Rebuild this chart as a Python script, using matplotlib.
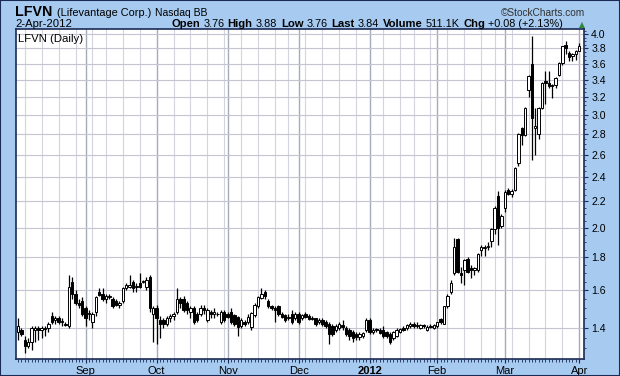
import numpy as np
import pandas as pd
import matplotlib
matplotlib.use('Agg')
import matplotlib.pyplot as plt
from matplotlib.patches import Rectangle

plt.rcParams['font.family'] = ['Liberation Sans', 'DejaVu Sans']

# LFVN daily candles, 4-Aug-2011 .. 2-Apr-2012
opens = [
    # Aug
    1.38, 1.39, 1.34, 1.31, 1.33, 1.39, 1.40, 1.39, 1.40, 1.40,
    1.46, 1.44, 1.45, 1.43, 1.42, 1.41, 1.65, 1.58, 1.53, 1.54,
    # Sep
    1.50, 1.47, 1.43, 1.48, 1.59, 1.58, 1.55, 1.56, 1.55, 1.54,
    1.52, 1.54, 1.61, 1.62, 1.65, 1.62, 1.64, 1.65, 1.62, 1.68, 1.47,
    # Oct
    1.50, 1.44, 1.44, 1.42, 1.45, 1.46, 1.48, 1.55, 1.55, 1.53,
    1.48, 1.50, 1.47, 1.47, 1.50, 1.44, 1.48, 1.47, 1.47, 1.43, 1.48,
    # Nov
    1.47, 1.48, 1.465, 1.455, 1.41, 1.43, 1.43, 1.404, 1.464, 1.51,
    1.555, 1.59, 1.54, 1.51, 1.50, 1.51, 1.47, 1.465, 1.45, 1.47, 1.45,
    # Dec
    1.47, 1.45, 1.47, 1.46, 1.45, 1.447, 1.43, 1.44, 1.43, 1.42,
    1.41, 1.39, 1.40, 1.415, 1.40, 1.39, 1.38, 1.37, 1.355, 1.36, 1.39,
    # Jan
    1.44, 1.38, 1.395, 1.39, 1.39, 1.38, 1.37, 1.35, 1.36, 1.38,
    1.40, 1.40, 1.41, 1.42, 1.415, 1.40, 1.415, 1.39, 1.41, 1.40,
    # Feb
    1.41, 1.445, 1.42, 1.51, 1.59, 1.70, 1.92, 1.70, 1.72, 1.79,
    1.73, 1.72, 1.72, 1.85, 1.86, 1.87, 1.91, 1.99, 2.24, 2.01,
    # Mar
    2.15, 2.29, 2.26, 2.29, 2.52, 2.86, 2.79, 3.28, 3.60, 2.86, 2.80,
    3.07, 3.38, 3.36, 3.34, 3.34, 3.46, 3.61, 3.85, 3.74, 3.70, 3.72,
    # Apr
    3.76,
]
highs = [
    1.45, 1.40, 1.36, 1.35, 1.41, 1.41, 1.41, 1.41, 1.41, 1.43,
    1.48, 1.46, 1.46, 1.45, 1.43, 1.69, 1.68, 1.60, 1.55, 1.56,
    1.51, 1.49, 1.48, 1.57, 1.61, 1.61, 1.58, 1.58, 1.56, 1.55,
    1.54, 1.62, 1.64, 1.69, 1.66, 1.64, 1.70, 1.66, 1.68, 1.69, 1.51,
    1.52, 1.46, 1.45, 1.46, 1.47, 1.48, 1.61, 1.56, 1.57, 1.54,
    1.51, 1.51, 1.48, 1.52, 1.52, 1.50, 1.49, 1.50, 1.48, 1.49, 1.49,
    1.48, 1.50, 1.47, 1.46, 1.45, 1.44, 1.47, 1.48, 1.53, 1.57,
    1.61, 1.60, 1.55, 1.52, 1.51, 1.52, 1.48, 1.47, 1.47, 1.49, 1.48,
    1.48, 1.47, 1.48, 1.47, 1.46, 1.45, 1.45, 1.45, 1.44, 1.43,
    1.42, 1.42, 1.43, 1.44, 1.41, 1.40, 1.39, 1.38, 1.38, 1.38, 1.45,
    1.45, 1.40, 1.40, 1.40, 1.41, 1.385, 1.38, 1.385, 1.40, 1.40,
    1.41, 1.42, 1.43, 1.43, 1.43, 1.42, 1.42, 1.415, 1.42, 1.42,
    1.43, 1.45, 1.51, 1.58, 1.66, 1.93, 1.93, 1.74, 1.79, 1.80,
    1.75, 1.74, 1.83, 1.88, 1.88, 1.90, 2.00, 2.16, 2.28, 2.10,
    2.29, 2.31, 2.30, 2.49, 2.81, 2.87, 3.08, 3.46, 3.98, 3.07, 3.08,
    3.37, 3.50, 3.50, 3.35, 3.43, 3.62, 3.84, 3.90, 3.76, 3.74, 3.78,
    3.88,
]
lows = [
    1.34, 1.36, 1.28, 1.30, 1.29, 1.33, 1.34, 1.35, 1.36, 1.38,
    1.42, 1.42, 1.42, 1.41, 1.41, 1.40, 1.55, 1.52, 1.50, 1.46,
    1.41, 1.44, 1.40, 1.46, 1.57, 1.54, 1.53, 1.55, 1.50, 1.51,
    1.50, 1.53, 1.60, 1.61, 1.59, 1.59, 1.61, 1.64, 1.60, 1.48, 1.33,
    1.32, 1.35, 1.40, 1.41, 1.43, 1.44, 1.47, 1.50, 1.48, 1.47,
    1.45, 1.42, 1.43, 1.46, 1.47, 1.43, 1.45, 1.45, 1.46, 1.42, 1.43,
    1.45, 1.42, 1.41, 1.36, 1.40, 1.41, 1.42, 1.39, 1.455, 1.50,
    1.55, 1.55, 1.50, 1.49, 1.43, 1.46, 1.45, 1.43, 1.44, 1.42, 1.44,
    1.42, 1.44, 1.45, 1.44, 1.44, 1.41, 1.42, 1.41, 1.40, 1.32,
    1.36, 1.38, 1.39, 1.39, 1.36, 1.34, 1.33, 1.34, 1.34, 1.35, 1.38,
    1.37, 1.37, 1.38, 1.37, 1.35, 1.35, 1.32, 1.34, 1.355, 1.375,
    1.385, 1.39, 1.40, 1.40, 1.40, 1.395, 1.40, 1.385, 1.40, 1.395,
    1.40, 1.42, 1.42, 1.50, 1.58, 1.69, 1.70, 1.64, 1.63, 1.70,
    1.67, 1.69, 1.71, 1.81, 1.81, 1.85, 1.87, 1.96, 1.88, 2.00,
    2.12, 2.25, 2.23, 2.28, 2.50, 2.69, 2.78, 3.20, 2.55, 2.60, 2.75,
    3.06, 3.11, 3.30, 3.18, 3.30, 3.44, 3.58, 3.72, 3.63, 3.63, 3.65,
    3.76,
]
closes = [
    1.41, 1.37, 1.31, 1.33, 1.40, 1.40, 1.39, 1.40, 1.395, 1.42,
    1.43, 1.45, 1.43, 1.43, 1.415, 1.62, 1.58, 1.53, 1.52, 1.47,
    1.45, 1.475, 1.47, 1.56, 1.575, 1.55, 1.57, 1.57, 1.51, 1.52,
    1.53, 1.61, 1.63, 1.63, 1.61, 1.62, 1.62, 1.65, 1.66, 1.50, 1.50,
    1.45, 1.42, 1.42, 1.45, 1.46, 1.47, 1.55, 1.53, 1.49, 1.49,
    1.50, 1.43, 1.44, 1.50, 1.49, 1.49, 1.47, 1.48, 1.47, 1.48, 1.44,
    1.455, 1.43, 1.42, 1.405, 1.44, 1.42, 1.455, 1.473, 1.52, 1.56,
    1.58, 1.565, 1.51, 1.50, 1.49, 1.47, 1.455, 1.44, 1.455, 1.43, 1.47,
    1.43, 1.465, 1.455, 1.445, 1.445, 1.42, 1.44, 1.42, 1.41, 1.37,
    1.37, 1.41, 1.42, 1.405, 1.37, 1.36, 1.35, 1.355, 1.37, 1.375, 1.44,
    1.38, 1.39, 1.39, 1.375, 1.36, 1.36, 1.33, 1.38, 1.39, 1.395,
    1.39, 1.415, 1.42, 1.41, 1.41, 1.415, 1.41, 1.405, 1.405, 1.415,
    1.43, 1.43, 1.51, 1.57, 1.64, 1.87, 1.71, 1.69, 1.78, 1.71,
    1.72, 1.73, 1.82, 1.87, 1.87, 1.875, 1.99, 2.15, 2.00, 2.09,
    2.27, 2.26, 2.28, 2.48, 2.80, 2.79, 3.07, 3.44, 2.96, 2.88, 3.07,
    3.36, 3.36, 3.32, 3.32, 3.42, 3.61, 3.83, 3.80, 3.68, 3.72, 3.76,
    3.84,
]

holidays = ['2011-09-05', '2011-11-24', '2011-12-26',
            '2012-01-02', '2012-01-16', '2012-02-20']
month_labels = ['Sep', 'Oct', 'Nov', 'Dec', '2012', 'Feb', 'Mar', 'Apr']
y_ticks = [1.4, 1.6, 1.8, 2.0, 2.2, 2.4, 2.6, 2.8, 3.0, 3.2, 3.4, 3.6, 3.8, 4.0]

# trading days
dates = pd.bdate_range('2011-08-04', '2012-04-02')
dates = dates[~dates.isin(pd.to_datetime(holidays))]
d = pd.Series(dates)
x = np.arange(len(d))
new_month = (d.dt.month != d.dt.month.shift()).values
new_week = (d.dt.to_period('W') != d.dt.to_period('W').shift()).values
new_month[0] = False
new_week[0] = False
month_pos = x[new_month]
week_pos = x[new_week & ~new_month]

o = np.array(opens)
h = np.array(highs)
l = np.array(lows)
c = np.array(closes)
up = c >= o

W, H = 620, 376
BG = '#A6CAF0'
NAVY = '#1B2A55'

fig = plt.figure(figsize=(W / 100, H / 100), dpi=100, facecolor=BG)
ax = fig.add_axes([16 / W, 17 / H, 568.3 / W, 329.7 / H])
ax.set_facecolor('white')

# grid
for p in week_pos:
    ax.axvline(p, color='#D4D4DE', lw=0.8, zorder=1)
for p in month_pos:
    ax.axvline(p, color='#A4ACBC', lw=1.0, zorder=1)
for t in y_ticks:
    ax.axhline(t, color='#C4C4D2', lw=0.8, zorder=1)

# candles
ax.vlines(x, l, h, color='black', lw=0.9, zorder=3)
ax.bar(x, np.maximum(np.abs(c - o), 0.002), bottom=np.minimum(o, c), width=0.72,
       color=np.where(up, 'white', 'black'), edgecolor='black', linewidth=0.7, zorder=4)

ax.set_yscale('log')
ax.set_ylim(1.251, 4.07)
ax.set_xlim(-0.6, 167.5)

ax.yaxis.tick_right()
ax.set_yticks(y_ticks)
ax.set_yticklabels([f'{t:.1f}' for t in y_ticks])
ax.set_yticks(np.arange(1.30, 4.06, 0.05), minor=True)
ax.yaxis.set_minor_formatter(plt.NullFormatter())
ax.tick_params(axis='y', which='major', length=3, width=0.8, color=NAVY, pad=2,
               labelsize=7.6, labelcolor='black')
ax.tick_params(axis='y', which='minor', length=1.5, width=0.6, color=NAVY)

ax.set_xticks(month_pos)
ax.set_xticklabels(month_labels)
ax.set_xticks(x, minor=True)
ax.tick_params(axis='x', which='major', length=3, width=0.8, color=NAVY, pad=2,
               labelsize=8, labelcolor='black')
ax.tick_params(axis='x', which='minor', length=1.8, width=0.6, color=NAVY)
for lab in ax.get_xticklabels():
    if lab.get_text() == '2012':
        lab.set_fontweight('bold')

for s in ax.spines.values():
    s.set_color(NAVY)
    s.set_linewidth(1.2)

ax.text(0.004, 0.985, 'LFVN (Daily)', transform=ax.transAxes, fontsize=8.2,
        ha='left', va='top', zorder=5)

# outer frame
fig.patches.append(Rectangle((0, 0), 1, 1, transform=fig.transFigure, fill=False,
                             edgecolor=NAVY, linewidth=1.5))


def fx(px):
    return px / W


def fy(py):
    return 1 - py / H


renderer = fig.canvas.get_renderer()


def chain(parts, x0, y0, gap=3):
    xp = x0
    for s, weight, size in parts:
        t = fig.text(fx(xp), fy(y0), s, fontsize=size, fontweight=weight,
                     color='black', ha='left', va='baseline')
        xp += t.get_window_extent(renderer=renderer).width + gap
    return xp


# header line 1
chain([('LFVN', 'bold', 10.3),
       ('(Lifevantage Corp.)', 'normal', 7.9),
       ('Nasdaq BB', 'normal', 7.5)], 15.5, 15.5, gap=4)
fig.text(fx(585), fy(15.5), '\u00a9StockCharts.com', fontsize=7.3, color='#333333',
         ha='right', va='baseline')

# header line 2
fig.text(fx(15.5), fy(27), '2-Apr-2012', fontsize=8.1, ha='left', va='baseline')
chain([('Open', 'bold', 8.1), ('3.76', 'normal', 7.85),
       ('High', 'bold', 8.1), ('3.88', 'normal', 7.85),
       ('Low', 'bold', 8.1), ('3.76', 'normal', 7.85),
       ('Last', 'bold', 8.1), ('3.84', 'normal', 7.85),
       ('Volume', 'bold', 8.1), ('511.1K', 'normal', 7.85),
       ('Chg', 'bold', 8.1), ('+0.08 (+2.13%)', 'normal', 7.85)],
      171, 27, gap=3.4)
fig.text(fx(585), fy(27.5), '\u25b2', fontsize=5.5, color='#2E8B3A', ha='right',
         va='baseline', family=['DejaVu Sans'])

fig.savefig('out.png', dpi=100, facecolor=BG)
